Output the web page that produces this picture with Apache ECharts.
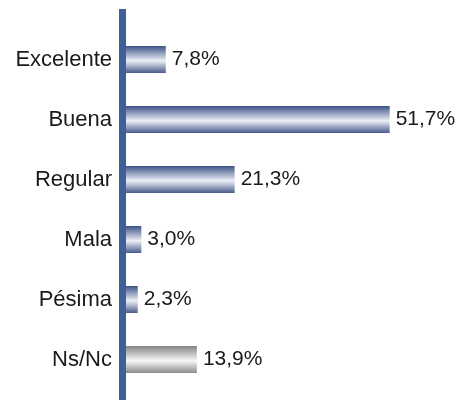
<!DOCTYPE html>
<html>
<head>
<meta charset="utf-8">
<script src="https://cdn.jsdelivr.net/npm/echarts@6/dist/echarts.min.js"></script>
<style>
  html, body { margin: 0; padding: 0; background: #fff; }
  #chart { width: 455px; height: 400px; }
</style>
</head>
<body>
<div id="chart"></div>
<script>
// datos
var categorias = ['Excelente', 'Buena', 'Regular', 'Mala', 'Pésima', 'Ns/Nc'];
var valores = [7.8, 51.7, 21.3, 3.0, 2.3, 13.9];
var grises = ['Ns/Nc']; // barras en gris

function degradado(oscuro, claro, oscuro2) {
    return new echarts.graphic.LinearGradient(0, 0, 0, 1, [
        { offset: 0, color: oscuro },
        { offset: 0.55, color: claro },
        { offset: 1, color: oscuro2 }
    ]);
}

var chart = echarts.init(document.getElementById('chart'));

var option = {
    animation: false,
    grid: { left: 126, right: 23, top: 29.5, bottom: 10.5 },
    xAxis: {
        type: 'value',
        min: 0,
        max: 60,
        show: false
    },
    yAxis: {
        type: 'category',
        inverse: true,
        data: categorias,
        axisLine: { show: false },
        axisTick: { show: false },
        axisLabel: {
            margin: 14,
            fontSize: 22,
            fontFamily: 'Liberation Sans, Arial, sans-serif',
            color: '#1a1a1a'
        }
    },
    // linea del eje (sobresale arriba y abajo)
    graphic: [{
        type: 'rect',
        shape: { x: 119, y: 9, width: 7, height: 391 },
        style: { fill: '#3f5f99' },
        z: 10
    }],
    series: [{
        type: 'bar',
        barWidth: 27,
        data: valores.map(function (v, i) {
            var gris = grises.indexOf(categorias[i]) >= 0;
            return {
                value: v,
                itemStyle: {
                    color: gris
                        ? degradado('#858585', '#f7f7f7', '#8c8c8c')
                        : degradado('#3c5286', '#eef0f7', '#4a5b8c')
                }
            };
        }),
        label: {
            show: true,
            position: 'right',
            distance: 6,
            fontSize: 21,
            fontFamily: 'Liberation Sans, Arial, sans-serif',
            color: '#1a1a1a',
            formatter: function (p) {
                return p.value.toFixed(1).replace('.', ',') + '%';
            }
        }
    }]
};

chart.setOption(option);
</script>
</body>
</html>
